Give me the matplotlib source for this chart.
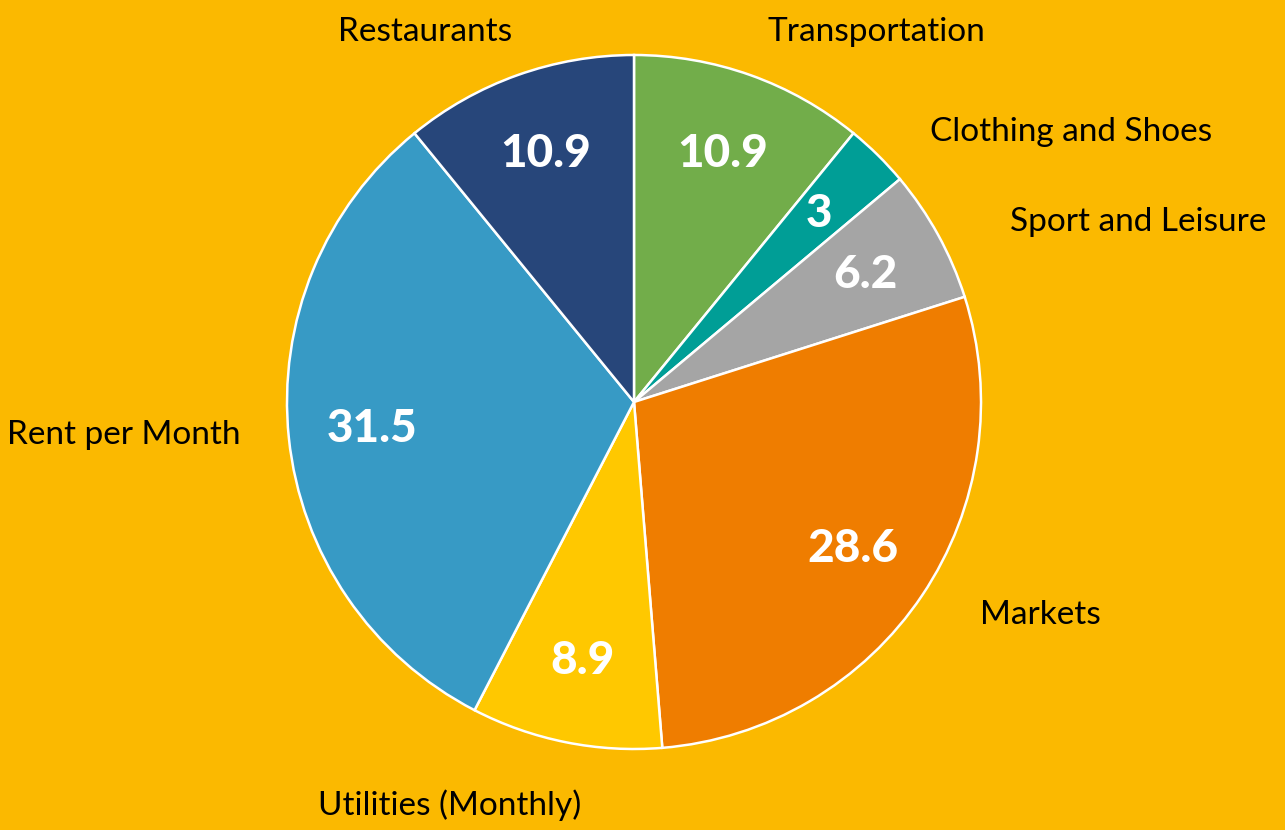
import matplotlib.pyplot as plt

categories = ["Transportation", "Clothing and Shoes", "Sport and Leisure", "Markets",
              "Utilities (Monthly)", "Rent per Month", "Restaurants"]
values = [10.9, 3, 6.2, 28.6, 8.9, 31.5, 10.9]
colors = ["#72AD4A", "#009E96", "#A5A5A5", "#EF7D00", "#FFC800", "#379AC5", "#27467A"]

# where the outside labels sit (pie radius units) and how they are aligned
label_xy = [(0.386, 1.066), (0.853, 0.778), (1.084, 0.519), (0.997, -0.614),
            (-0.530, -1.161), (-1.135, -0.095), (-0.352, 1.066)]
label_ha = ["left", "left", "left", "left", "center", "right", "right"]

bg = "#FBB900"
plt.rcParams['font.family'] = ['Lato', 'DejaVu Sans']

fig = plt.figure(figsize=(12.85, 8.3), dpi=100, facecolor=bg)
ax = fig.add_axes([287 / 1285, 81 / 830, 694 / 1285, 694 / 830])

wedges, texts, autotexts = ax.pie(
    values, labels=categories, colors=colors, startangle=90, counterclock=False,
    labeldistance=1.15, pctdistance=0.76,
    autopct=lambda p: "",
    wedgeprops=dict(edgecolor="white", linewidth=1.8),
    textprops=dict(fontsize=24, color="black"))

for t, xy, ha in zip(texts, label_xy, label_ha):
    t.set_position(xy)
    t.set_ha(ha)
    t.set_va("center")

for t, v in zip(autotexts, values):
    t.set_text(f"{v:g}")
    t.set_color("white")
    t.set_fontsize(33)
    t.set_fontweight(900)

ax.set_xlim(-1, 1)
ax.set_ylim(-1, 1)

fig.savefig("out.png", facecolor=bg)
